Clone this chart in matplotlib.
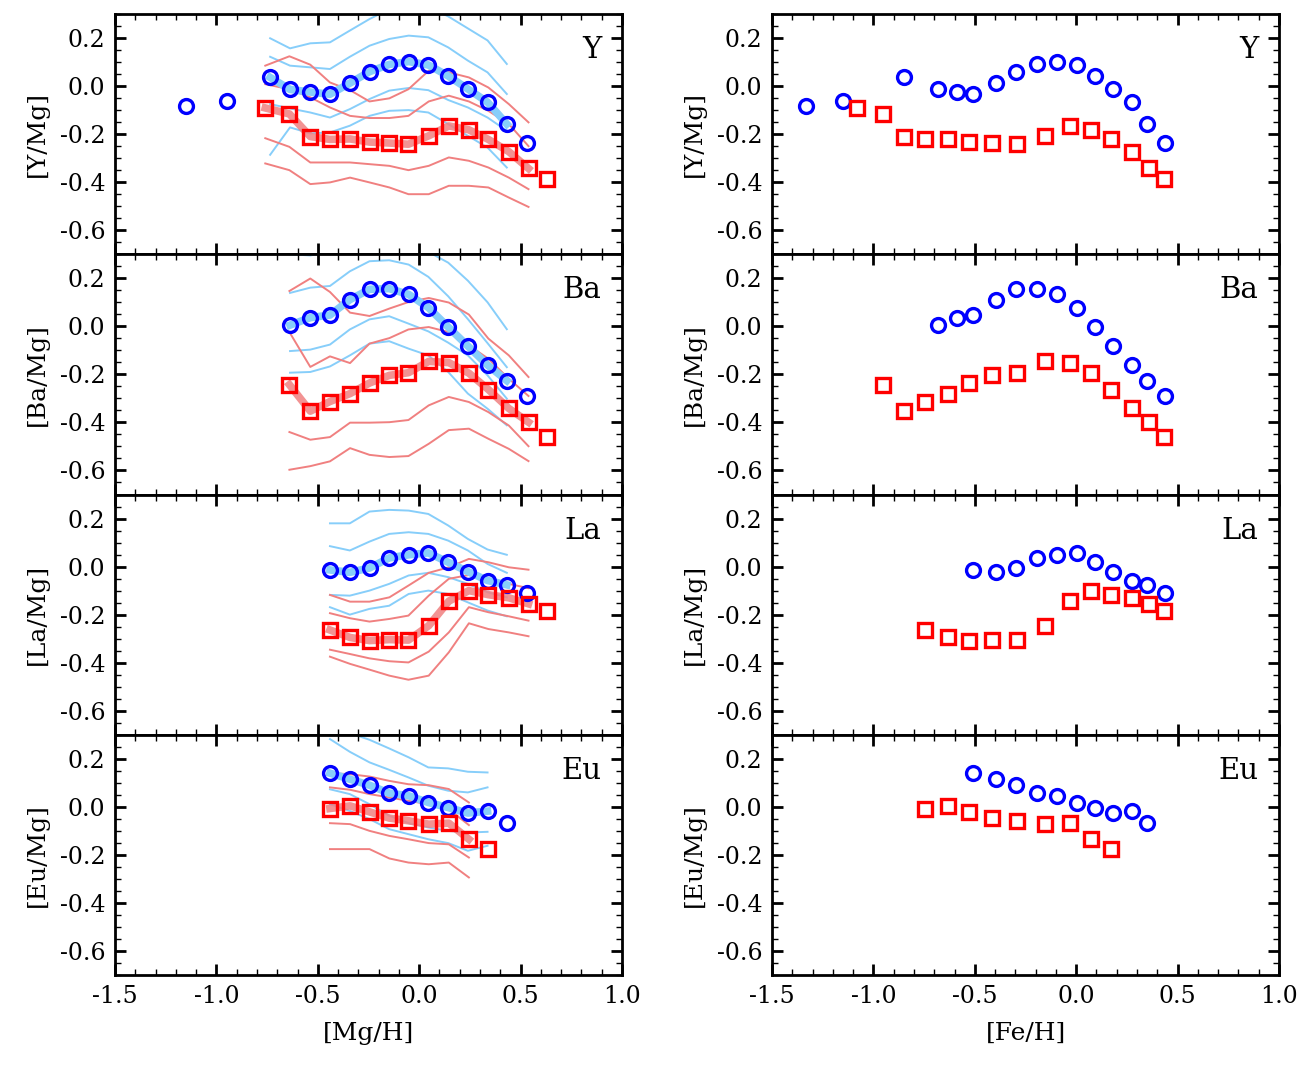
import matplotlib.pyplot as plt
from matplotlib.ticker import MultipleLocator

plt.rcParams['font.family'] = ['DejaVu Serif']
plt.rcParams['axes.unicode_minus'] = False

# bin centres of the two samples, in [Mg/H] and in [Fe/H]
mgh_blue = [-1.15, -0.95, -0.735, -0.637, -0.537, -0.44, -0.342, -0.245, -0.148,
            -0.052, 0.045, 0.143, 0.24, 0.337, 0.432, 0.531]
feh_blue = [-1.33, -1.15, -0.85, -0.68, -0.588, -0.51, -0.397, -0.295, -0.193,
            -0.095, 0.004, 0.093, 0.18, 0.275, 0.349, 0.438]
mgh_red = [-0.759, -0.64, -0.537, -0.44, -0.341, -0.245, -0.147, -0.053, 0.047,
           0.146, 0.245, 0.341, 0.442, 0.539, 0.631]
feh_red = [-1.082, -0.955, -0.85, -0.748, -0.633, -0.528, -0.414, -0.293, -0.154,
           -0.032, 0.074, 0.174, 0.275, 0.359, 0.433]

elements = ['Y', 'Ba', 'La', 'Eu']

# binned abundances (circles / squares)
blue_Y = [-0.083, -0.062, 0.036, -0.014, -0.025, -0.034, 0.012, 0.06, 0.09, 0.102,
          0.088, 0.042, -0.012, -0.067, -0.158, -0.237]
red_Y = [-0.091, -0.116, -0.21, -0.222, -0.22, -0.233, -0.237, -0.242, -0.207,
         -0.166, -0.182, -0.222, -0.273, -0.343, -0.388]
blue_Ba = [0.005, 0.036, 0.047, 0.111, 0.154, 0.157, 0.133, 0.078, -0.003, -0.082,
           -0.161, -0.226, -0.29]
red_Ba = [-0.243, -0.353, -0.313, -0.28, -0.236, -0.204, -0.193, -0.146, -0.151,
          -0.195, -0.263, -0.342, -0.399, -0.461]
blue_La = [-0.014, -0.024, -0.006, 0.036, 0.049, 0.057, 0.018, -0.021, -0.058,
           -0.076, -0.11]
red_La = [-0.264, -0.295, -0.308, -0.304, -0.306, -0.246, -0.144, -0.1, -0.117,
          -0.13, -0.155, -0.186]
blue_Eu = [0.14, 0.115, 0.09, 0.057, 0.046, 0.018, -0.003, -0.026, -0.018, -0.068]
red_Eu = [-0.007, 0.004, -0.021, -0.047, -0.058, -0.072, -0.068, -0.135, -0.176]

# first bin of each set of points
blue_start = {'Y': 0, 'Ba': 3, 'La': 5, 'Eu': 5}
red_start = {'Y': 0, 'Ba': 1, 'La': 3, 'Eu': 3}
# model curves start here
blue_line_start = {'Y': 2, 'Ba': 3, 'La': 5, 'Eu': 5}
red_line_start = {'Y': 0, 'Ba': 1, 'La': 3, 'Eu': 3}

# model percentile curves (thin lines), [Mg/H] panels only
blue_band_Y = [
    [0.199, 0.157, 0.178, 0.182, 0.231, 0.279, 0.32, 0.34, 0.33, 0.29, 0.24, 0.19, 0.092],
    [0.122, 0.085, 0.078, 0.071, 0.122, 0.168, 0.196, 0.21, 0.203, 0.161, 0.106, 0.057, -0.033],
    [-0.075, -0.093, -0.11, -0.131, -0.096, -0.054, -0.019, -0.008, -0.017, -0.058, -0.089, -0.131, -0.186],
    [-0.286, -0.172, -0.197, -0.193, -0.165, -0.124, -0.103, -0.1, -0.11, -0.158, -0.207, -0.256, -0.339],
]
red_band_Y = [
    [0.085, 0.124, 0.089, 0.015, -0.017, -0.064, -0.051, -0.013, 0.064, 0.057, 0.036, -0.006, -0.075, -0.151],
    [0.008, -0.013, -0.047, -0.089, -0.124, -0.133, -0.133, -0.124, -0.064, -0.04, -0.064, -0.103, -0.158, -0.25],
    [-0.217, -0.253, -0.318, -0.318, -0.318, -0.325, -0.332, -0.35, -0.332, -0.297, -0.311, -0.339, -0.381, -0.429],
    [-0.322, -0.35, -0.408, -0.401, -0.381, -0.401, -0.422, -0.45, -0.45, -0.415, -0.415, -0.422, -0.464, -0.503],
]
blue_band_Ba = [
    [0.30, 0.295, 0.31, 0.33, 0.35, 0.35, 0.34, 0.31, 0.265, 0.19, 0.10, -0.012],
    [0.139, 0.161, 0.168, 0.229, 0.271, 0.275, 0.257, 0.206, 0.125, 0.03, -0.07, -0.17],
    [-0.103, -0.097, -0.076, -0.013, 0.029, 0.042, 0.011, -0.021, -0.068, -0.121, -0.204, -0.301],
    [-0.193, -0.19, -0.167, -0.121, -0.072, -0.062, -0.093, -0.121, -0.19, -0.28, -0.343, -0.412],
]
red_band_Ba = [
    [0.147, 0.199, 0.143, 0.057, 0.043, 0.074, 0.101, 0.118, 0.099, 0.049, -0.051, -0.121, -0.211],
    [-0.024, -0.169, -0.125, -0.153, -0.072, -0.049, -0.013, -0.003, -0.024, -0.079, -0.135, -0.218, -0.29],
    [-0.44, -0.472, -0.461, -0.401, -0.401, -0.399, -0.39, -0.329, -0.294, -0.315, -0.357, -0.413, -0.499],
    [-0.597, -0.582, -0.562, -0.507, -0.535, -0.544, -0.54, -0.489, -0.432, -0.426, -0.468, -0.51, -0.561],
]
blue_band_La = [
    [0.18, 0.18, 0.229, 0.236, 0.233, 0.219, 0.171, 0.115, 0.071, 0.049],
    [0.085, 0.067, 0.104, 0.136, 0.143, 0.136, 0.108, 0.067, 0.011, -0.026],
    [-0.118, -0.121, -0.1, -0.072, -0.037, -0.026, -0.044, -0.072, -0.107, -0.128],
    [-0.169, -0.2, -0.176, -0.163, -0.114, -0.1, -0.114, -0.149, -0.183, -0.207],
]
red_band_La = [
    [-0.118, -0.146, -0.146, -0.128, -0.079, -0.026, -0.003, 0.032, 0.018, -0.003, -0.013],
    [-0.194, -0.215, -0.229, -0.218, -0.204, -0.121, -0.051, -0.035, -0.058, -0.072, -0.09],
    [-0.346, -0.364, -0.382, -0.394, -0.399, -0.354, -0.274, -0.169, -0.19, -0.207, -0.225],
    [-0.375, -0.405, -0.429, -0.454, -0.471, -0.454, -0.357, -0.236, -0.26, -0.274, -0.29],
]
blue_band_Eu = [
    [0.338, 0.307, 0.279, 0.243, 0.206, 0.164, 0.16, 0.146, 0.143],
    [0.282, 0.229, 0.185, 0.154, 0.122, 0.088, 0.067, 0.06, 0.081],
    [0.073, 0.053, 0.011, -0.037, -0.068, -0.086, -0.1, -0.107, -0.104],
    [0.011, -0.017, -0.051, -0.093, -0.114, -0.135, -0.151, -0.183, -0.162],
]
red_band_Eu = [
    [0.14, 0.136, 0.126, 0.108, 0.094, 0.09, 0.074, 0.018],
    [0.081, 0.071, 0.053, 0.039, 0.025, 0.011, -0.01, -0.076],
    [-0.068, -0.072, -0.1, -0.121, -0.135, -0.151, -0.156, -0.211],
    [-0.176, -0.176, -0.176, -0.215, -0.232, -0.239, -0.232, -0.294],
]

blue_pts = {'Y': blue_Y, 'Ba': blue_Ba, 'La': blue_La, 'Eu': blue_Eu}
red_pts = {'Y': red_Y, 'Ba': red_Ba, 'La': red_La, 'Eu': red_Eu}
blue_bands = {'Y': blue_band_Y, 'Ba': blue_band_Ba, 'La': blue_band_La, 'Eu': blue_band_Eu}
red_bands = {'Y': red_band_Y, 'Ba': red_band_Ba, 'La': red_band_La, 'Eu': red_band_Eu}

light_blue = '#87cefa'
light_red = '#f08080'

W, H = 1316, 1067
fig = plt.figure(figsize=(W / 100, H / 100), dpi=100)

col_left = [115, 772]
col_w = 507
top, bottom = 14, 975
row_h = (bottom - top) / 4


def style_axes(ax, last_row):
    ax.set_xlim(-1.5, 1.0)
    ax.set_ylim(-0.7, 0.3)
    ax.xaxis.set_major_locator(MultipleLocator(0.5))
    ax.xaxis.set_minor_locator(MultipleLocator(0.1))
    ax.yaxis.set_major_locator(MultipleLocator(0.2))
    ax.yaxis.set_minor_locator(MultipleLocator(0.05))
    ax.tick_params(which='both', direction='in', top=True, right=True, labelsize=17)
    ax.tick_params(which='major', length=8, width=2, pad=7)
    ax.tick_params(which='minor', length=4, width=1)
    ax.set_yticks([-0.6, -0.4, -0.2, 0.0, 0.2])
    ax.set_yticklabels(['-0.6', '-0.4', '-0.2', '0.0', '0.2'])
    if last_row:
        ax.set_xticks([-1.5, -1.0, -0.5, 0.0, 0.5, 1.0])
        ax.set_xticklabels(['-1.5', '-1.0', '-0.5', '0.0', '0.5', '1.0'])
    else:
        ax.tick_params(labelbottom=False)
    for s in ax.spines.values():
        s.set_linewidth(2)


for i, el in enumerate(elements):
    last = i == len(elements) - 1
    y_frac = (H - bottom + (3 - i) * row_h) / H
    for j, (xb, xr) in enumerate([(mgh_blue, mgh_red), (feh_blue, feh_red)]):
        ax = fig.add_axes([col_left[j] / W, y_frac, col_w / W, row_h / H])
        bs, rs = blue_start[el], red_start[el]
        bp, rp = blue_pts[el], red_pts[el]
        if j == 0:
            # thin percentile curves
            bls = blue_line_start[el]
            for line in blue_bands[el]:
                ax.plot(xb[bls:bls + len(line)], line, color=light_blue, lw=1.4, zorder=1)
            rls = red_line_start[el]
            for line in red_bands[el]:
                ax.plot(xr[rls:rls + len(line)], line, color=light_red, lw=1.4, zorder=1)
            # thick median curves
            nb = len(blue_bands[el][0])
            ax.plot(xb[bls:bls + nb], bp[bls - bs:bls - bs + nb], color=light_blue,
                    lw=5.5, zorder=2)
            nr = len(red_bands[el][0])
            ax.plot(xr[rls:rls + nr], rp[rls - rs:rls - rs + nr], color=light_red,
                    lw=5.5, alpha=0.85, zorder=2)
        ax.plot(xb[bs:bs + len(bp)], bp, 'o', ms=10, mfc='none', mec='blue', mew=2.4,
                zorder=3)
        ax.plot(xr[rs:rs + len(rp)], rp, 's', ms=9.5, mfc='none', mec='red', mew=2.4,
                zorder=3)
        style_axes(ax, last)
        ax.text(0.96, 0.85, el, transform=ax.transAxes, ha='right', va='center',
                fontsize=21)
        ax.set_ylabel('[%s/Mg]' % el, fontsize=18, labelpad=8)
        if last:
            ax.set_xlabel('[Mg/H]' if j == 0 else '[Fe/H]', fontsize=18, labelpad=10)

fig.savefig('out.png', dpi=100)
